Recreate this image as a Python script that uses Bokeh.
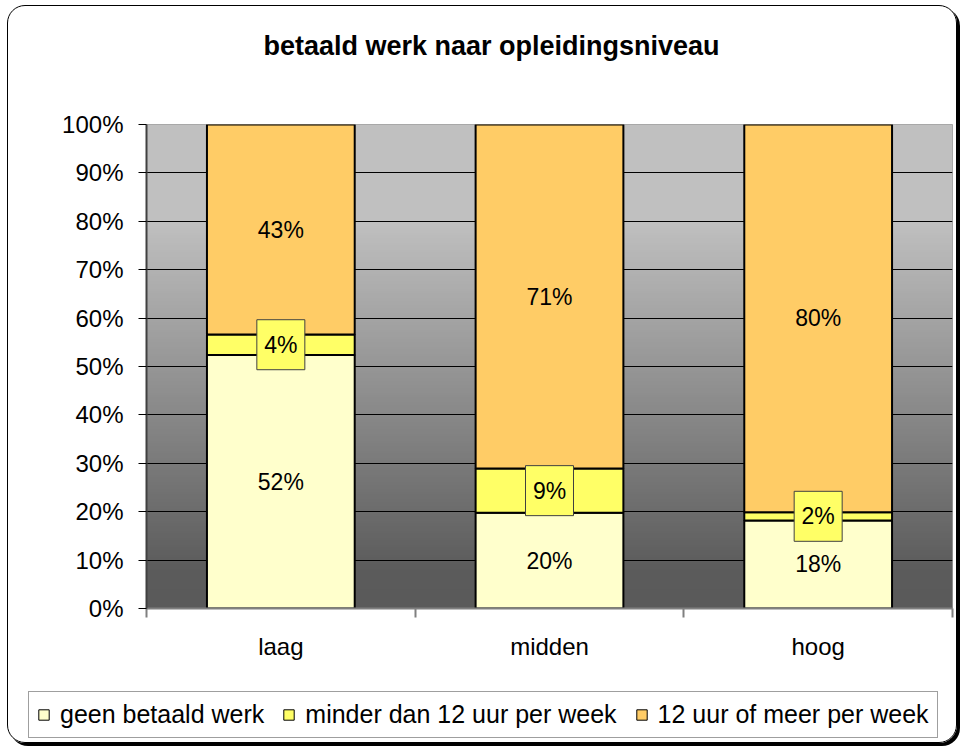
import numpy as np
from bokeh.plotting import figure
from bokeh.layouts import column
from bokeh.models import (ColumnDataSource, Range1d, FixedTicker, LabelSet, Label,
                          Legend, LegendItem)
from bokeh.core.properties import value
from bokeh.embed import file_html
from bokeh.resources import INLINE

# ---------------- data ----------------
title_text = "betaald werk naar opleidingsniveau"
categories = ["laag", "midden", "hoog"]
series_names = ["geen betaald werk", "minder dan 12 uur per week", "12 uur of meer per week"]
geen_betaald_werk = [52.4, 19.8, 18.2]
minder_dan_12_uur = [4.2, 9.1, 1.7]
twaalf_uur_of_meer = [43.4, 71.1, 80.1]
y_ticks = [0, 10, 20, 30, 40, 50, 60, 70, 80, 90, 100]
y_tick_labels = ["0%", "10%", "20%", "30%", "40%", "50%", "60%", "70%", "80%", "90%", "100%"]

# ---------------- style ----------------
colors = ["#FFFFCC", "#FFFF66", "#FFCC66"]
FONT = "Liberation Sans"
W = 948

n = len(categories)
xc = [i + 0.5 for i in range(n)]
keys = ["s0", "s1", "s2"]
series = [geen_betaald_werk, minder_dan_12_uur, twaalf_uur_of_meer]
src = ColumnDataSource(dict(x=xc, cat=categories, s0=series[0], s1=series[1], s2=series[2]))


def strip(h):
    f = figure(width=W, height=h, x_range=Range1d(0, 1), y_range=Range1d(0, 1),
               output_backend="svg", toolbar_location=None, title=None,
               x_axis_type=None, y_axis_type=None,
               min_border_left=0, min_border_right=0, min_border_top=0, min_border_bottom=0)
    f.border_fill_color = None
    f.background_fill_color = None
    f.outline_line_color = None
    f.grid.visible = False
    f.frame_align = False
    return f


# ---------------- title strip ----------------
pt = strip(98)
pt.add_layout(Label(x=483, y=59, x_units="screen", y_units="screen", text=title_text,
                    text_align="center", text_baseline="alphabetic",
                    text_font=FONT, text_font_size="27px", text_font_style="bold",
                    text_color="#000000"))

# ---------------- main chart ----------------
p = figure(width=W, height=582, x_range=Range1d(0, n), y_range=Range1d(0, 100),
           output_backend="svg", toolbar_location=None, title=None,
           min_border_left=138, min_border_right=4, min_border_top=20, min_border_bottom=78)
p.border_fill_color = None
p.background_fill_color = None
p.outline_line_color = "#a0a0a0"
p.frame_align = False

# gradient background (decoration)
N = 200
ys = np.linspace(0, 100, N)
g = np.interp(ys, [0, 8, 80, 100], [0x5a, 0x5c, 0xc0, 0xc0]).astype(np.uint32)
img = (0xFF << 24) | (g << 16) | (g << 8) | g
img = img.reshape(N, 1).astype(np.uint32)
p.image_rgba(image=[img], x=0, y=0, dw=n, dh=100, level="image")

# grid
p.xgrid.grid_line_color = None
p.ygrid.ticker = FixedTicker(ticks=y_ticks[1:-1])
p.ygrid.grid_line_color = "#000000"
p.ygrid.grid_line_width = 1

# y axis
p.yaxis.ticker = FixedTicker(ticks=y_ticks)
p.yaxis.major_label_overrides = {t: l for t, l in zip(y_ticks, y_tick_labels)}
p.yaxis.major_label_text_font = FONT
p.yaxis.major_label_text_font_size = "24px"
p.yaxis.major_label_text_color = "#000000"
p.yaxis.major_label_standoff = 15
p.yaxis.major_tick_out = 8
p.yaxis.major_tick_in = 0
p.yaxis.major_tick_line_color = "#000000"
p.yaxis.minor_tick_line_color = None
p.yaxis.axis_line_color = "#404040"
p.yaxis.axis_line_width = 2

# x axis
p.xaxis.ticker = FixedTicker(ticks=xc, minor_ticks=list(range(n + 1)))
p.xaxis.major_label_overrides = {x: c for x, c in zip(xc, categories)}
p.xaxis.major_label_text_font = FONT
p.xaxis.major_label_text_font_size = "24px"
p.xaxis.major_label_text_color = "#000000"
p.xaxis.major_label_standoff = 15
p.xaxis.major_tick_out = 0
p.xaxis.major_tick_in = 0
p.xaxis.major_tick_line_color = None
p.xaxis.minor_tick_out = 9
p.xaxis.minor_tick_in = 0
p.xaxis.minor_tick_line_color = "#808080"
p.xaxis.minor_tick_line_width = 2
p.xaxis.axis_line_color = "#808080"
p.xaxis.axis_line_width = 2

# bars
rs = p.vbar_stack(keys, x="x", width=0.55, source=src, fill_color=colors,
                  line_color="#000000", line_width=2)

# labels
bottom = np.zeros(n)
for i, vals in enumerate(series):
    v = np.array(vals)
    mids = bottom + v / 2
    bottom = bottom + v
    ls_src = ColumnDataSource(dict(x=xc, y=list(mids), t=[f"{int(round(a))}%" for a in v]))
    if i == 1:
        p.rect(x="x", y="y", width=48, height=50, width_units="screen", height_units="screen",
               source=ls_src, fill_color="#FFFF66", line_color="#404040", line_width=1)
    lab = LabelSet(x="x", y="y", text="t", source=ls_src, text_align="center",
                   text_baseline="middle", text_font=value(FONT), text_font_size=value("23px"),
                   text_color="#000000")
    p.add_layout(lab)

# ---------------- legend strip ----------------
pl = strip(56)
pl.x_range = Range1d(0, n)
pl.y_range = Range1d(0, 100)
leg_rs = pl.vbar_stack(keys, x="x", width=0.55, source=src, fill_color=colors,
                       line_color="#000000", line_width=1, visible=False)
items = [LegendItem(label=nm, renderers=[r]) for nm, r in zip(series_names, leg_rs)]
legend = Legend(items=items, orientation="horizontal", location=(20, 4),
                label_text_font=FONT, label_text_font_size="25px",
                glyph_width=13, glyph_height=13, label_standoff=10, spacing=18,
                padding=8, margin=0, border_line_color="#404040", border_line_width=1,
                background_fill_color="#FFFFFF", background_fill_alpha=1.0,
                inactive_fill_alpha=0.0, label_text_color="#000000")
pl.add_layout(legend)

layout = column(pt, p, pl, spacing=0)
layout.styles = {"border": "1px solid #000000", "border-radius": "18px",
                 "box-shadow": "3px 3px 0px #000000", "overflow": "hidden",
                 "margin-left": "7px", "margin-top": "5px"}

open("out.html", "w").write(file_html(layout, INLINE))
